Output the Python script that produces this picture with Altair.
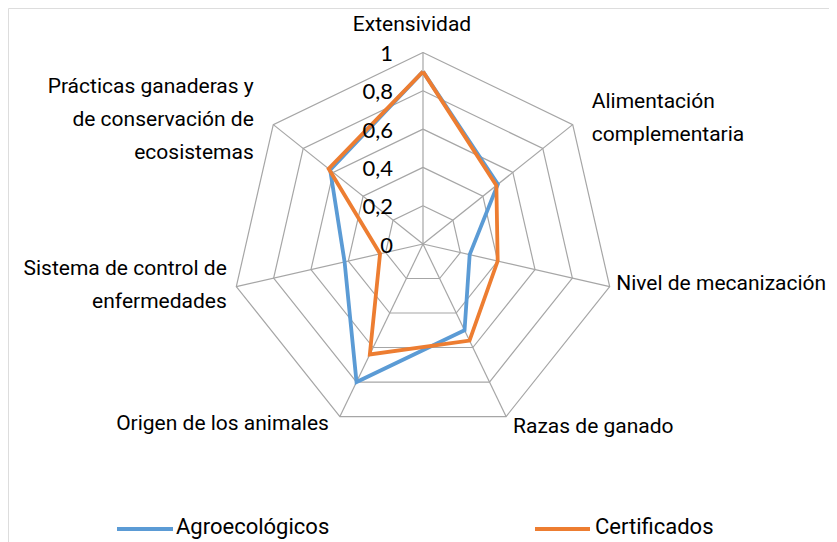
import math
import altair as alt
import pandas as pd

# ---------------- data ----------------
categories = [
    "Extensividad",
    "Alimentación\ncomplementaria",
    "Nivel de mecanización",
    "Razas de ganado",
    "Origen de los animales",
    "Sistema de control de\nenfermedades",
    "Prácticas ganaderas y\nde conservación de\necosistemas",
]
series_names = ["Agroecológicos", "Certificados"]
agro = [0.90, 0.50, 0.25, 0.50, 0.80, 0.42, 0.62]
cert = [0.90, 0.49, 0.40, 0.56, 0.64, 0.23, 0.63]
ticks = [0, 0.2, 0.4, 0.6, 0.8, 1.0]
tick_labels = ["0", "0,2", "0,4", "0,6", "0,8", "1"]
colors = ["#5B9BD5", "#ED7D31"]

N = len(categories)

# ---------------- tables built from the arrays ----------------
rows = []
for name, vals in zip(series_names, [agro, cert]):
    for i in range(N + 1):
        rows.append({"series": name, "idx": i, "value": vals[i % N]})
series_df = pd.DataFrame(rows)

ring_rows = []
for lv in ticks[1:]:
    for i in range(N + 1):
        ring_rows.append({"level": lv, "idx": i, "value": lv})
rings_df = pd.DataFrame(ring_rows)

spokes_df = pd.DataFrame({"idx": list(range(N)), "value": [1.0] * N})
labels_df = pd.DataFrame({"idx": list(range(N)), "value": [1.0] * N, "label": categories})
ticks_df = pd.DataFrame({"idx": [0] * len(ticks), "value": ticks, "label": tick_labels})
legend_df = pd.DataFrame({"series": series_names})

# ---------------- layout ----------------
W, H = 821, 534
R = 191.5          # pixels per unit
CX, CY = 415, 236  # centre within the plot area
xdom = [-CX / R, (W - CX) / R]
ydom = [-(H - CY) / R, CY / R]

xs = alt.Scale(domain=xdom, nice=False, zero=False)
ys = alt.Scale(domain=ydom, nice=False, zero=False)
cs = alt.Scale(domain=series_names, range=colors)

TWO_PI_N = f"(2*PI/{N})"
LABEL_FONT = "Roboto"


def polar(chart):
    return chart.transform_calculate(
        theta=f"datum.idx*{TWO_PI_N}"
    ).transform_calculate(
        px="datum.value*sin(datum.theta)", py="datum.value*cos(datum.theta)"
    )


X = alt.X("px:Q", scale=xs, axis=None)
Y = alt.Y("py:Q", scale=ys, axis=None)

GRID = "#A6A6A6"

rings = polar(alt.Chart(rings_df)).mark_line(
    color=GRID, strokeWidth=1.2
).encode(x=X, y=Y, detail="level:N", order="idx:Q")

spokes = alt.Chart(spokes_df).transform_calculate(
    theta=f"datum.idx*{TWO_PI_N}"
).transform_calculate(
    px="sin(datum.theta)", py="cos(datum.theta)", ox="0", oy="0"
).mark_rule(color=GRID, strokeWidth=1.2).encode(
    x=alt.X("ox:Q", scale=xs, axis=None),
    y=alt.Y("oy:Q", scale=ys, axis=None),
    x2="px:Q",
    y2="py:Q",
)

lines = polar(alt.Chart(series_df)).mark_line(strokeWidth=3.8).encode(
    x=X,
    y=Y,
    order="idx:Q",
    color=alt.Color("series:N", scale=cs, legend=None),
)

tick_text = polar(alt.Chart(ticks_df)).mark_text(
    align="right", baseline="middle", dx=-30, dy=1.5,
    font="Lato", fontSize=22, color="#000000",
).encode(x=X, y=Y, text="label:N")

# label offsets (pixels) relative to each outer vertex
offsets = [
    ("center", -11, -22),
    ("left", 19, -16.5),
    ("left", 6.5, 3.5),
    ("left", 7, 16.5),
    ("right", -11, 13.5),
    ("right", -9.5, -11.5),
    ("right", -19.5, -31.5),
]
label_layers = []
for i, (al, dx, dy) in enumerate(offsets):
    label_layers.append(
        polar(alt.Chart(labels_df).transform_filter(f"datum.idx == {i}")).mark_text(
            align=al, baseline="alphabetic", dx=dx, dy=dy,
            font=LABEL_FONT, fontSize=21, lineHeight=33,
            lineBreak="\n", color="#000000",
        ).encode(x=X, y=Y, text="label:N")
    )

# legend (bottom), one key per series
legend_pos = [(109, 165, 168), (527, 582, 587)]  # line start, line end, text start (px)
legend_layers = []
for name, (x1, x2, xt) in zip(series_names, legend_pos):
    base = alt.Chart(legend_df).transform_filter(alt.datum.series == name)
    legend_layers.append(
        base.mark_rule(strokeWidth=4).encode(
            x=alt.value(x1), x2=alt.value(x2), y=alt.value(521),
            color=alt.Color("series:N", scale=cs, legend=None),
        )
    )
    legend_layers.append(
        base.mark_text(
            align="left", baseline="alphabetic", font=LABEL_FONT, fontSize=22,
            color="#000000",
        ).encode(x=alt.value(xt), y=alt.value(526), text="series:N")
    )

chart = alt.layer(
    rings, spokes, lines, tick_text, *label_layers, *legend_layers
).properties(
    width=W, height=H, padding=0, autosize=alt.AutoSizeParams(type="none")
).configure_view(strokeWidth=0, stroke="transparent").configure(background="#FFFFFF")

chart.save("out.html", embed_options={"renderer": "svg", "actions": False})
